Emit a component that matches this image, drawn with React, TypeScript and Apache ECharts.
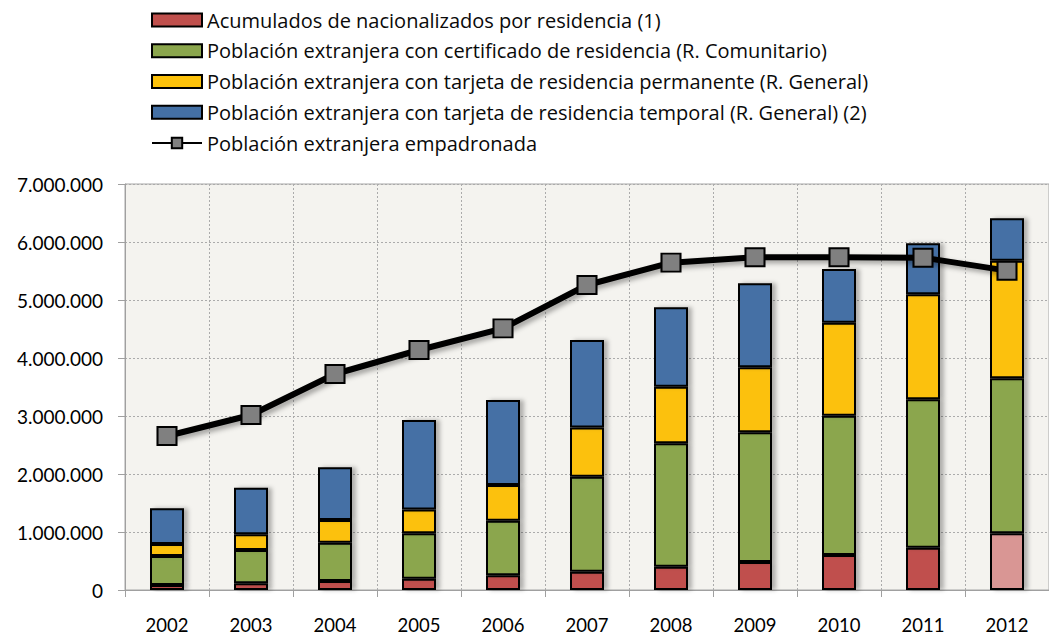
import React, { useEffect, useRef } from "react";
import * as echarts from "echarts";

const years = ["2002", "2003", "2004", "2005", "2006", "2007", "2008", "2009", "2010", "2011", "2012"];
const nacionalizados = [86000, 115000, 155000, 195000, 253000, 316000, 402000, 483000, 603000, 730000, 977000];
const comunitario = [500000, 575000, 661000, 782000, 942000, 1638000, 2127000, 2235000, 2403000, 2557000, 2672000];
const permanente = [207000, 270000, 391000, 413000, 615000, 846000, 977000, 1121000, 1603000, 1811000, 2029000];
const temporal = [615000, 804000, 908000, 1541000, 1466000, 1510000, 1368000, 1448000, 925000, 879000, 730000];
const empadronada = [2655000, 3017000, 3724000, 4138000, 4511000, 5259000, 5644000, 5736000, 5736000, 5730000, 5506000];

const seriesNames = [
  "Acumulados de nacionalizados por residencia (1)",
  "Población extranjera con certificado de residencia (R. Comunitario)",
  "Población extranjera con tarjeta de residencia permanente (R. General)",
  "Población extranjera con tarjeta de residencia temporal (R. General) (2)",
  "Población extranjera empadronada",
];

const fmt = (v: number) => String(v).replace(/\B(?=(\d{3})+(?!\d))/g, ".");

export default function App() {
  const ref = useRef<HTMLDivElement>(null);
  useEffect(() => {
    const chart = echarts.init(ref.current!, null, { renderer: "svg" });
    const font = "Lato, 'Noto Sans', sans-serif";
    const legendFont = "'Open Sans', 'Noto Sans', sans-serif";
    const barStyle = (color: string) => ({
      color,
      borderColor: "#000",
      borderWidth: 2,
      shadowColor: "rgba(0,0,0,0.28)",
      shadowBlur: 4,
      shadowOffsetX: 4,
      shadowOffsetY: 0,
    });
    const bar = (name: string, data: any[], color: string) => ({
      name,
      type: "bar",
      stack: "total",
      barWidth: 34,
      data,
      itemStyle: barStyle(color),
    });
    chart.setOption({
      animation: false,
      textStyle: { fontFamily: font },
      legend: {
        orient: "vertical",
        left: 151,
        top: 10,
        padding: 0,
        itemWidth: 50,
        itemHeight: 13,
        itemGap: 10.75,
        textStyle: { fontFamily: legendFont, fontSize: 20, lineHeight: 20, color: "#0a0a0a" },
        data: [
          { name: seriesNames[0], icon: "rect" },
          { name: seriesNames[1], icon: "rect" },
          { name: seriesNames[2], icon: "rect" },
          { name: seriesNames[3], icon: "rect" },
          { name: seriesNames[4] },
        ],
      },
      grid: {
        left: 125,
        top: 184,
        right: -9,
        bottom: 46,
        show: true,
        backgroundColor: "#F4F3EF",
        borderColor: "#A6A6A6",
        borderWidth: 1,
      },
      xAxis: {
        type: "category",
        data: years,
        boundaryGap: true,
        axisLine: { lineStyle: { color: "#A0A0A0", width: 1 } },
        axisTick: { show: true, length: 7, lineStyle: { color: "#A0A0A0" } },
        axisLabel: { fontFamily: font, fontSize: 18.5, lineHeight: 16, color: "#000", margin: 27 },
        splitLine: { show: true, lineStyle: { color: "#ABABAB", type: [2, 2], width: 1 } },
      },
      yAxis: {
        type: "value",
        min: 0,
        max: 7000000,
        interval: 1000000,
        axisLine: { show: true, lineStyle: { color: "#A0A0A0", width: 1 } },
        axisTick: { show: true, length: 7, lineStyle: { color: "#A0A0A0" } },
        axisLabel: { fontFamily: font, fontSize: 19, color: "#000", margin: 22, formatter: fmt },
        splitLine: { show: true, lineStyle: { color: "#ABABAB", type: [2, 2], width: 1 } },
      },
      series: [
        bar(
          seriesNames[0],
          nacionalizados.map((v, i) =>
            i === nacionalizados.length - 1 ? { value: v, itemStyle: { color: "#D99694" } } : v
          ),
          "#C0504D"
        ),
        bar(seriesNames[1], comunitario, "#8BA64D"),
        bar(seriesNames[2], permanente, "#FCC10A"),
        bar(seriesNames[3], temporal, "#4470A5"),
        {
          name: seriesNames[4],
          type: "line",
          data: empadronada,
          z: 10,
          symbol: "rect",
          symbolSize: [19, 18],
          lineStyle: {
            color: "#000",
            width: 6,
            shadowColor: "rgba(0,0,0,0.35)",
            shadowBlur: 5,
            shadowOffsetX: 3,
            shadowOffsetY: 3,
          },
          itemStyle: {
            color: "#808080",
            borderColor: "#000",
            borderWidth: 2,
          },
        },
      ],
    });
    return () => chart.dispose();
  }, []);
  return (
    <div
      ref={ref}
      style={{ position: "fixed", left: 0, top: 0, width: 1049, height: 636, background: "#fff" }}
    />
  );
}
